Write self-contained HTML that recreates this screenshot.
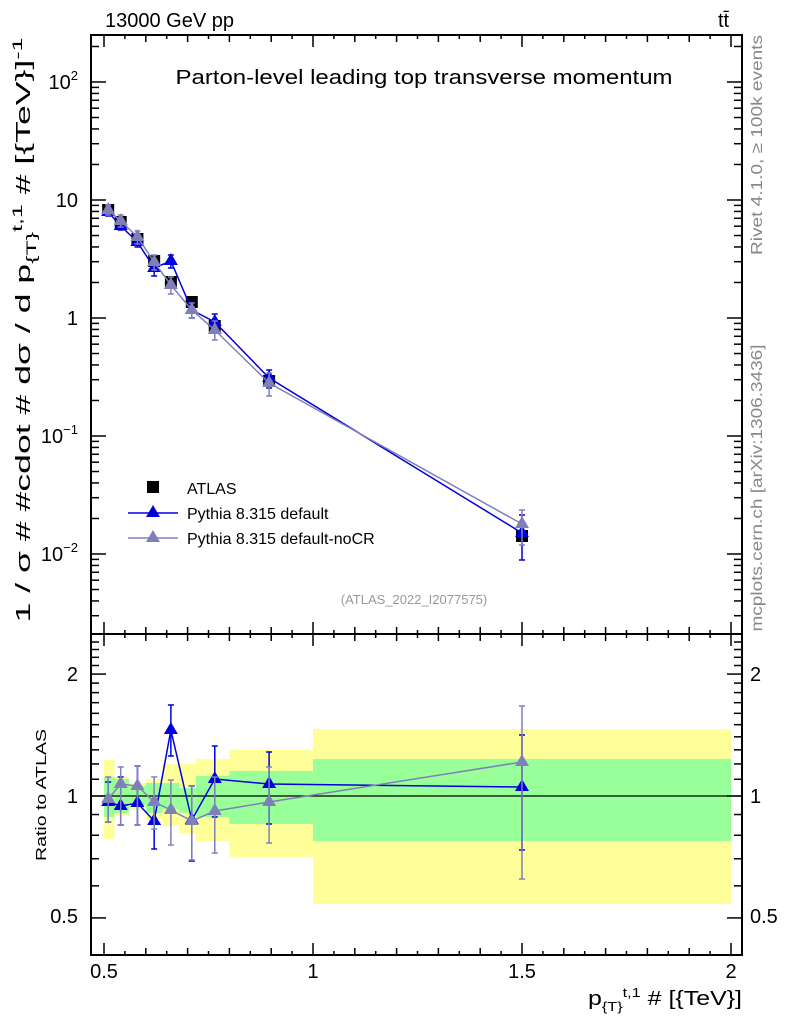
<!DOCTYPE html>
<html><head><meta charset="utf-8"><style>
body{margin:0;background:#fff}
svg{display:block;font-family:"Liberation Sans",sans-serif}
</style></head><body>
<svg id="s" width="786" height="1024" xmlns="http://www.w3.org/2000/svg">
<rect width="786" height="1024" fill="#fff"/>
<g id="bands"></g>
<g id="ticks" stroke="#000" stroke-width="1.5"></g>
<rect x="91" y="35" width="651" height="599" fill="none" stroke="#000" stroke-width="2"/>
<rect x="91" y="634" width="651" height="321" fill="none" stroke="#000" stroke-width="2"/>
<line x1="91" y1="796" x2="742" y2="796" stroke="#000" stroke-width="1.2"/>
<g id="data"></g>
<text x="105" y="27" font-size="20">13000 GeV pp</text>
<text x="718" y="27" font-size="20">tt̄</text>
<text x="424" y="84" font-size="20" text-anchor="middle" textLength="497" lengthAdjust="spacingAndGlyphs">Parton-level leading top transverse momentum</text>
<text x="414" y="604" font-size="13" fill="#999" text-anchor="middle">(ATLAS_2022_I2077575)</text>
<g font-size="20" text-anchor="end">
<text x="78" y="89">10<tspan font-size="13" dy="-9">2</tspan></text>
<text x="78" y="207">10</text>
<text x="78" y="325">1</text>
<text x="78" y="443">10<tspan font-size="13" dy="-9">−1</tspan></text>
<text x="78" y="561">10<tspan font-size="13" dy="-9">−2</tspan></text>
<text x="78" y="681">2</text>
<text x="78" y="803">1</text>
<text x="78" y="923">0.5</text>
</g>
<g font-size="20">
<text x="750" y="681">2</text>
<text x="750" y="803">1</text>
<text x="750" y="923">0.5</text>
</g>
<g font-size="20" text-anchor="middle">
<text x="104" y="978">0.5</text>
<text x="313" y="978">1</text>
<text x="522" y="978">1.5</text>
<text x="731" y="978">2</text>
</g>
<text x="742" y="1005" font-size="20" text-anchor="end" textLength="154" lengthAdjust="spacingAndGlyphs">p<tspan font-size="13" dy="6">{T}</tspan><tspan font-size="13" dy="-14">t,1</tspan><tspan dy="8"> # [{TeV}]</tspan></text>
<text transform="translate(30,330) rotate(-90)" font-size="20" text-anchor="middle" textLength="585" lengthAdjust="spacingAndGlyphs">1 / σ # #cdot # dσ / d p<tspan font-size="14" dy="6">{T}</tspan><tspan font-size="14" dy="-14">t,1</tspan><tspan dy="8"> # [{TeV}]</tspan><tspan font-size="14" dy="-8">-1</tspan></text>
<text transform="translate(46,795) rotate(-90)" font-size="15" text-anchor="middle" textLength="132" lengthAdjust="spacingAndGlyphs">Ratio to ATLAS</text>
<text transform="translate(762,145) rotate(-90)" font-size="16" fill="#888" text-anchor="middle" textLength="220" lengthAdjust="spacingAndGlyphs">Rivet 4.1.0, ≥ 100k events</text>
<text transform="translate(762,488) rotate(-90)" font-size="16" fill="#888" text-anchor="middle" textLength="287" lengthAdjust="spacingAndGlyphs">mcplots.cern.ch [arXiv:1306.3436]</text>
<g font-size="16">
<rect x="147" y="481" width="12" height="12" fill="#000"/>
<text x="187" y="494">ATLAS</text>
<line x1="128" y1="513" x2="178" y2="513" stroke="#0000dd" stroke-width="1.5"/>
<polygon points="153,505 146,517 160,517" fill="#0000dd"/>
<text x="187" y="519">Pythia 8.315 default</text>
<line x1="128" y1="538" x2="178" y2="538" stroke="#8080b8" stroke-width="1.5"/>
<polygon points="153,530 146,542 160,542" fill="#8080b8"/>
<text x="187" y="544">Pythia 8.315 default-noCR</text>
</g>
</svg>
<script>
const NS="http://www.w3.org/2000/svg";
function el(p,t,a){const e=document.createElementNS(NS,t);for(const k in a)e.setAttribute(k,a[k]);document.getElementById(p).appendChild(e);return e;}
const X=v=>104+(v-0.5)*418;
for(let i=0;i<=30;i++){const v=0.5+i*0.05;if(v>2.02)break;const x=X(v);
 const maj=Math.abs(v*2-Math.round(v*2))<1e-6, mid=Math.abs(v*10-Math.round(v*10))<1e-6;
 const L=maj?12:(mid?7:4);
 for(const [y,d] of [[35,1],[634,-1],[634,1],[955,-1]]) el("ticks","line",{x1:x,y1:y,x2:x,y2:y+d*L});}
const Y=v=>318-118*Math.log10(v);
for(let e=-3;e<=2;e++)for(let m=1;m<=9;m++){const v=m*Math.pow(10,e);const y=Y(v);if(y<35||y>634)continue;const L=m==1?15:8;
 el("ticks","line",{x1:91,y1:y,x2:91+L,y2:y});el("ticks","line",{x1:742,y1:y,x2:742-L,y2:y});}
const R=v=>796-405*Math.log10(v);
for(let k=4;k<=25;k++){const v=k/10;const y=R(v);if(y<635||y>955)continue;const maj=(v==0.5||v==1||v==2);const L=maj?15:8;
 el("ticks","line",{x1:91,y1:y,x2:91+L,y2:y});el("ticks","line",{x1:742,y1:y,x2:742-L,y2:y});}
const edges=[0.5,0.525,0.56,0.6,0.64,0.68,0.72,0.8,1,2];
const yel=[[760,839],[777,816],[783,810],[779,819],[764,826],[764,833],[759,841],[750,857],[729,904]];
const grn=[[777,817],[779,813],[786,805],[783,813],[783,809],[788,813],[776,817],[771,824],[759,841]];
edges.slice(0,-1).forEach((a,i)=>{const x1=X(a),x2=X(edges[i+1]);
 el("bands","rect",{x:x1,y:yel[i][0],width:x2-x1,height:yel[i][1]-yel[i][0],fill:"#ffff99"});
 el("bands","rect",{x:x1,y:grn[i][0],width:x2-x1,height:grn[i][1]-grn[i][0],fill:"#99ff99"});});
const xs=[0.51,0.54,0.58,0.62,0.66,0.71,0.765,0.895,1.5];
function series(pts,col){const d=pts.map((p,i)=>X(xs[i])+","+p[0]).join(" ");
 el("data","polyline",{points:d,fill:"none",stroke:col,"stroke-width":1.5});
 pts.forEach((p,i)=>{const x=X(xs[i]);
  el("data","line",{x1:x,y1:p[1],x2:x,y2:p[2],stroke:col,"stroke-width":1.5});
  el("data","line",{x1:x-3,y1:p[1],x2:x+3,y2:p[1],stroke:col,"stroke-width":1.5});
  el("data","line",{x1:x-3,y1:p[2],x2:x+3,y2:p[2],stroke:col,"stroke-width":1.5});
  el("data","polygon",{points:`${x},${p[0]-8} ${x-7},${p[0]+4} ${x+7},${p[0]+4}`,fill:col});});}
const dat=[210,222,239,261,282,302,326,381,536];
dat.forEach((y,i)=>{const x=X(xs[i]);el("data","rect",{x:x-6,y:y-6,width:12,height:12,fill:"#000"});});
series([[212,207,216],[226,221,230],[242,237,247],[268,261,276],[261,255,268],[310,303,318],[322,314,330],[378,370,388],[533,515,560]],"#0000dd");
series([[210,205,215],[221,215,227],[237,231,244],[262,255,270],[285,277,294],[310,303,318],[330,321,340],[383,373,396],[524,510,545]],"#8080b8");
series([[802,782,822],[806,777,825],[803,766,825],[821,801,849],[730,705,756],[820,786,861],[779,746,817],[784,752,824],[787,735,850]],"#0000dd");
series([[799,777,822],[784,767,825],[786,766,825],[802,777,829],[810,780,845],[821,786,860],[811,777,853],[802,767,843],[762,706,879]],"#8080b8");
</script>
</body></html>
